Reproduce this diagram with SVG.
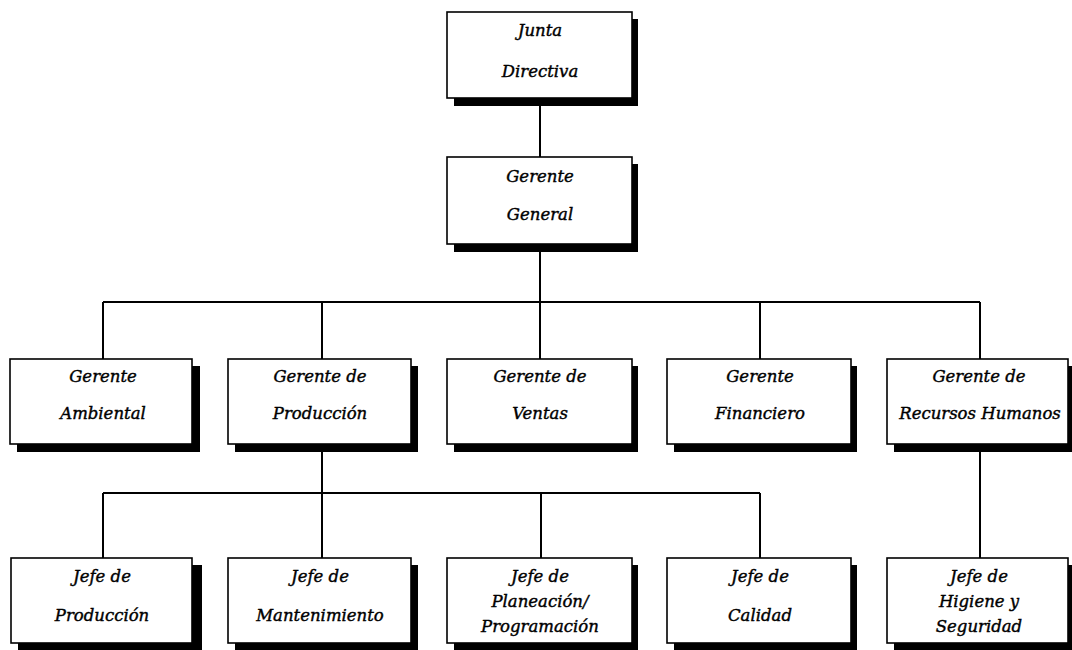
<svg xmlns="http://www.w3.org/2000/svg" width="1072" height="650" viewBox="0 0 1072 650">
  <style>
    .shadow { fill: #000; }
    .box { fill: #fff; stroke: #000; stroke-width: 1.6; }
    .label { font-family: "DejaVu Serif", "Liberation Serif", serif; font-style: italic; font-size: 16.5px; fill: #000; stroke: #000; stroke-width: 0.4; text-anchor: middle; }
    .wire { fill: none; stroke: #000; stroke-width: 2; }
  </style>
  <rect width="1072" height="650" fill="#fff"/>

  <!-- connectors -->
  <g id="connectors">
    <line class="wire" x1="540" y1="98" x2="540" y2="157"/>
    <line class="wire" x1="540" y1="244" x2="540" y2="359"/>
    <line class="wire" x1="103" y1="302" x2="980" y2="302"/>
    <line class="wire" x1="103" y1="302" x2="103" y2="359"/>
    <line class="wire" x1="322" y1="302" x2="322" y2="359"/>
    <line class="wire" x1="760" y1="302" x2="760" y2="359"/>
    <line class="wire" x1="980" y1="302" x2="980" y2="359"/>
    <line class="wire" x1="322" y1="444" x2="322" y2="558"/>
    <line class="wire" x1="103" y1="493" x2="760" y2="493"/>
    <line class="wire" x1="103" y1="493" x2="103" y2="558"/>
    <line class="wire" x1="541" y1="493" x2="541" y2="558"/>
    <line class="wire" x1="760" y1="493" x2="760" y2="558"/>
    <line class="wire" x1="980" y1="444" x2="980" y2="558"/>
  </g>

  <!-- top -->
  <g id="junta-directiva">
    <rect class="shadow" x="454" y="19" width="184" height="87"/>
    <rect class="box" x="447" y="12" width="185" height="86"/>
    <text class="label" x="540" y="36">Junta</text>
    <text class="label" x="540" y="77">Directiva</text>
  </g>
  <g id="gerente-general">
    <rect class="shadow" x="454" y="164" width="184" height="88"/>
    <rect class="box" x="447" y="157" width="185" height="87"/>
    <text class="label" x="540" y="182">Gerente</text>
    <text class="label" x="540" y="220">General</text>
  </g>

  <!-- managers -->
  <g id="gerente-ambiental">
    <rect class="shadow" x="17" y="366" width="183" height="86"/>
    <rect class="box" x="10" y="359" width="182" height="85"/>
    <text class="label" x="103" y="382">Gerente</text>
    <text class="label" x="103" y="419">Ambiental</text>
  </g>
  <g id="gerente-produccion">
    <rect class="shadow" x="235" y="366" width="183" height="86"/>
    <rect class="box" x="228" y="359" width="183" height="85"/>
    <text class="label" x="320" y="382">Gerente de</text>
    <text class="label" x="320" y="419">Producción</text>
  </g>
  <g id="gerente-ventas">
    <rect class="shadow" x="454" y="366" width="184" height="86"/>
    <rect class="box" x="447" y="359" width="185" height="85"/>
    <text class="label" x="540" y="382">Gerente de</text>
    <text class="label" x="540" y="419">Ventas</text>
  </g>
  <g id="gerente-financiero">
    <rect class="shadow" x="674" y="366" width="183" height="86"/>
    <rect class="box" x="667" y="359" width="184" height="85"/>
    <text class="label" x="760" y="382">Gerente</text>
    <text class="label" x="760" y="419">Financiero</text>
  </g>
  <g id="gerente-rrhh">
    <rect class="shadow" x="894" y="366" width="180" height="86"/>
    <rect class="box" x="887" y="359" width="181" height="85"/>
    <text class="label" x="979" y="382">Gerente de</text>
    <text class="label" x="980" y="419">Recursos Humanos</text>
  </g>

  <!-- department heads -->
  <g id="jefe-produccion">
    <rect class="shadow" x="18" y="565" width="184" height="85"/>
    <rect class="box" x="11" y="558" width="181" height="85"/>
    <text class="label" x="102" y="582">Jefe de</text>
    <text class="label" x="102" y="621">Producción</text>
  </g>
  <g id="jefe-mantenimiento">
    <rect class="shadow" x="235" y="565" width="183" height="85"/>
    <rect class="box" x="228" y="558" width="183" height="85"/>
    <text class="label" x="320" y="582">Jefe de</text>
    <text class="label" x="320" y="621">Mantenimiento</text>
  </g>
  <g id="jefe-planeacion">
    <rect class="shadow" x="454" y="565" width="184" height="85"/>
    <rect class="box" x="447" y="558" width="185" height="85"/>
    <text class="label" x="540" y="582">Jefe de</text>
    <text class="label" x="540" y="607">Planeación/</text>
    <text class="label" x="540" y="632">Programación</text>
  </g>
  <g id="jefe-calidad">
    <rect class="shadow" x="674" y="565" width="183" height="85"/>
    <rect class="box" x="667" y="558" width="184" height="85"/>
    <text class="label" x="760" y="582">Jefe de</text>
    <text class="label" x="760" y="621">Calidad</text>
  </g>
  <g id="jefe-higiene">
    <rect class="shadow" x="894" y="565" width="180" height="85"/>
    <rect class="box" x="887" y="558" width="181" height="85"/>
    <text class="label" x="979" y="582">Jefe de</text>
    <text class="label" x="979" y="607">Higiene y</text>
    <text class="label" x="979" y="632">Seguridad</text>
  </g>
</svg>
